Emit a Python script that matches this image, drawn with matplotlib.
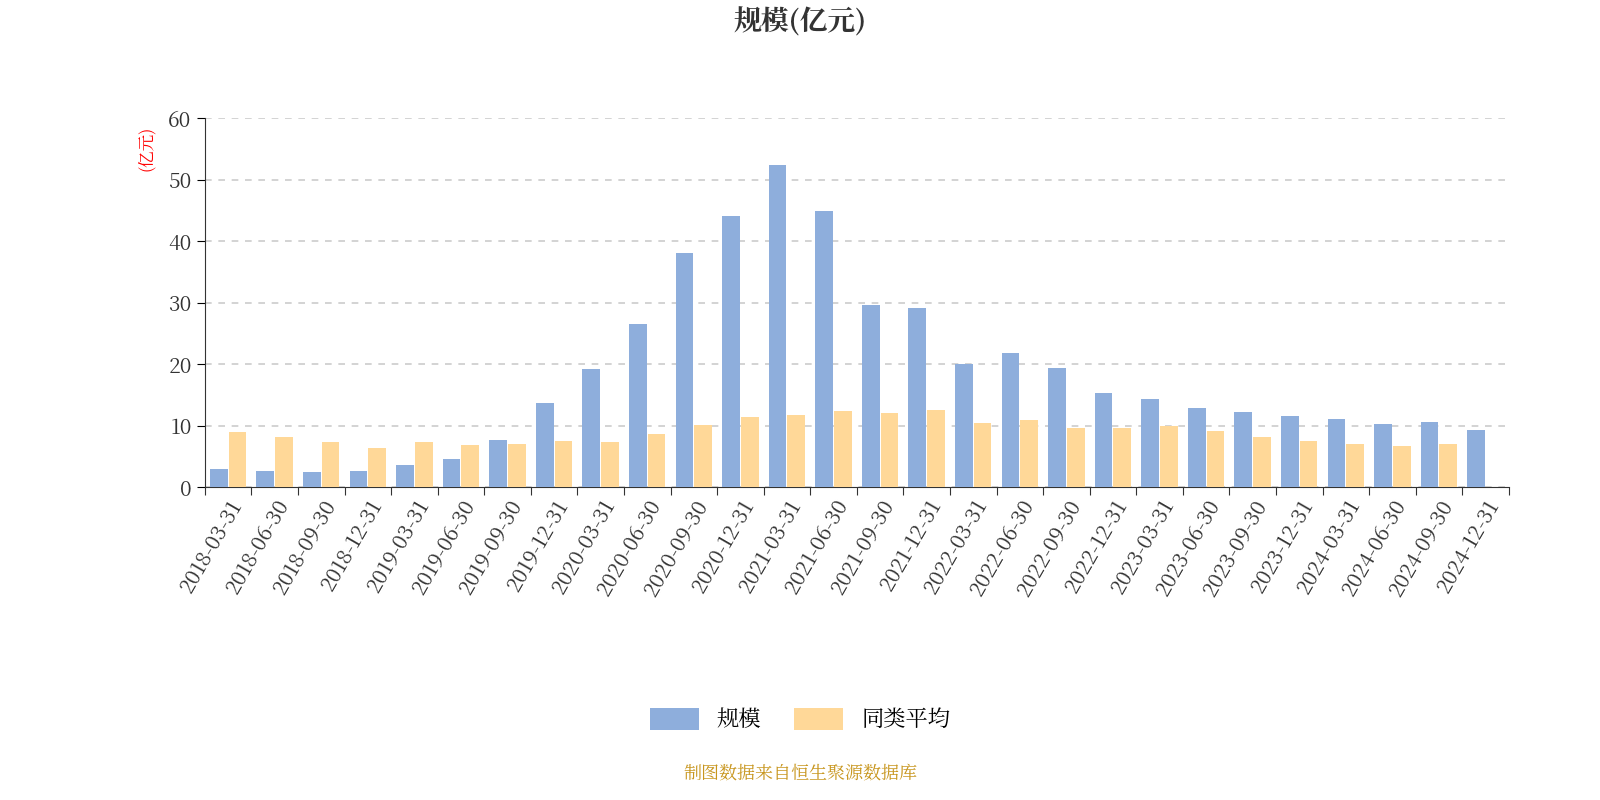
import matplotlib

matplotlib.use("Agg")
import matplotlib.pyplot as plt
from matplotlib import font_manager
import numpy as np

cjk = [f.name for f in font_manager.fontManager.ttflist if "CJK" in f.name]
plt.rcParams["font.family"] = "sans-serif"
plt.rcParams["font.sans-serif"] = ["Noto Sans CJK SC"] + cjk + ["DejaVu Sans"]
plt.rcParams["axes.unicode_minus"] = False

dates = [
    "2018-03-31", "2018-06-30", "2018-09-30", "2018-12-31",
    "2019-03-31", "2019-06-30", "2019-09-30", "2019-12-31",
    "2020-03-31", "2020-06-30", "2020-09-30", "2020-12-31",
    "2021-03-31", "2021-06-30", "2021-09-30", "2021-12-31",
    "2022-03-31", "2022-06-30", "2022-09-30", "2022-12-31",
    "2023-03-31", "2023-06-30", "2023-09-30", "2023-12-31",
    "2024-03-31", "2024-06-30", "2024-09-30", "2024-12-31",
]
scale = [2.9, 2.7, 2.4, 2.7, 3.6, 4.6, 7.6, 13.7, 19.3, 26.6, 38.1, 44.2,
         52.5, 45.0, 29.7, 29.1, 20.1, 21.8, 19.4, 15.4, 14.3, 12.9, 12.3,
         11.6, 11.1, 10.3, 10.6, 9.3]
peer_avg = [9.0, 8.2, 7.4, 6.4, 7.4, 6.9, 7.1, 7.5, 7.3, 8.7, 10.1, 11.5,
            11.7, 12.4, 12.0, 12.5, 10.4, 10.9, 9.6, 9.6, 9.9, 9.1, 8.2,
            7.5, 7.0, 6.7, 7.0, np.nan]

fig = plt.figure(figsize=(16, 8), dpi=100)
ax = fig.add_axes([0.128, 0.391, 0.815, 0.461])

x = np.arange(len(dates))
w = 0.38
ax.bar(x - 0.2, scale, w, color="#8eaedc", label="规模", zorder=3)
ax.bar(x + 0.2, peer_avg, w, color="#ffd898", label="同类平均", zorder=3)

ax.set_xlim(-0.5, len(dates) - 0.5)
ax.set_ylim(0, 60)
ax.set_yticks(range(0, 61, 10))
ax.yaxis.grid(True, linestyle=(0, (4, 4)), color="#cccccc", linewidth=1.2, zorder=0)
ax.set_xticks(np.arange(-0.5, len(dates), 1), minor=False)
ax.set_xticklabels([])
ax.set_xticks(x, minor=True)
ax.set_xticklabels(dates, minor=True, rotation=60, ha="right",
                   rotation_mode="anchor", fontsize=15, color="#333333")
ax.tick_params(axis="x", which="minor", length=0, pad=6)
ax.tick_params(axis="x", which="major", length=6, color="#333333")
ax.tick_params(axis="y", labelsize=15, labelcolor="#333333", length=6)
for s in ["top", "right"]:
    ax.spines[s].set_visible(False)
ax.spines["left"].set_color("#333333")
ax.spines["bottom"].set_color("#333333")

ax.text(-0.045, 0.92, "(亿元)", transform=ax.transAxes, rotation=90,
        color="red", fontsize=12, ha="center", va="center")

fig.text(0.5, 0.972, "规模(亿元)", ha="center", va="center",
         fontsize=20, fontweight="bold", color="#333333")
fig.legend(loc="center", bbox_to_anchor=(0.5, 0.1), ncol=2, frameon=False,
           fontsize=16, handlelength=2.2, handleheight=1.2, columnspacing=1.5)
fig.text(0.5, 0.033, "制图数据来自恒生聚源数据库", ha="center", va="center",
         fontsize=13, color="#c8961e")

fig.savefig("out.png", dpi=100)
